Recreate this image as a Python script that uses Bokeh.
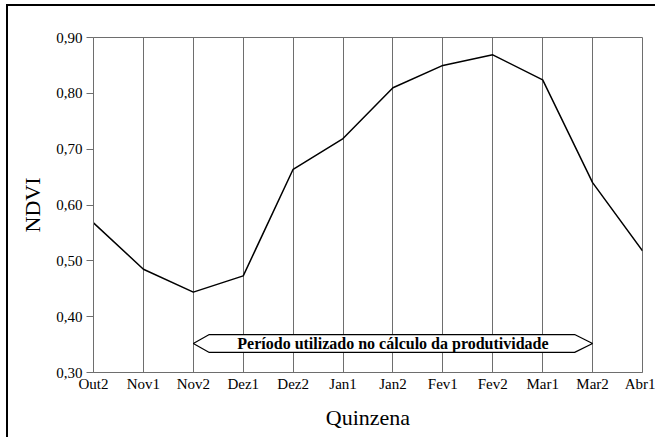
from bokeh.plotting import figure
from bokeh.models import FixedTicker, Range1d
from bokeh.core.properties import value
from bokeh.embed import file_html
from bokeh.resources import INLINE

categories = ["Out2", "Nov1", "Nov2", "Dez1", "Dez2", "Jan1", "Jan2",
              "Fev1", "Fev2", "Mar1", "Mar2", "Abr1"]
ndvi = [0.568, 0.485, 0.444, 0.473, 0.664, 0.719, 0.810,
        0.850, 0.869, 0.824, 0.640, 0.518]
y_ticks = [0.30, 0.40, 0.50, 0.60, 0.70, 0.80, 0.90]
y_tick_labels = ["0,30", "0,40", "0,50", "0,60", "0,70", "0,80", "0,90"]
period_start = "Nov2"
period_end = "Mar2"
period_label = "Período utilizado no cálculo da produtividade"
period_y = 0.352

SERIF = "Liberation Serif"
GRAY = "#6e6e6e"

xs = list(range(len(categories)))

p = figure(width=649, height=433, output_backend="svg", toolbar_location=None,
           x_range=Range1d(0, len(categories) - 1), y_range=Range1d(0.30, 0.90),
           min_border_left=85, min_border_right=15, min_border_top=31,
           min_border_bottom=67)
p.styles = {"border-left": "2px solid black", "border-top": "2px solid black",
            "margin-left": "6px", "margin-top": "4px"}

p.outline_line_color = GRAY
p.outline_line_width = 1
p.background_fill_color = "white"
p.border_fill_color = "white"

# x axis
p.xaxis.ticker = FixedTicker(ticks=xs)
p.xaxis.major_label_overrides = {i: c for i, c in enumerate(categories)}
p.xaxis.major_tick_out = 0
p.xaxis.major_tick_in = 0
p.xaxis.minor_tick_out = 0
p.xaxis.minor_tick_in = 0
p.xaxis.axis_line_color = GRAY
p.xaxis.major_label_text_font = SERIF
p.xaxis.major_label_text_font_size = "15px"
p.xaxis.major_label_text_color = "black"
p.xaxis.major_label_standoff = 3
p.xaxis.axis_label = "Quinzena"
p.xaxis.axis_label_text_font = SERIF
p.xaxis.axis_label_text_font_size = "22px"
p.xaxis.axis_label_text_font_style = "normal"
p.xaxis.axis_label_text_color = "black"
p.xaxis.axis_label_standoff = 10

# y axis
p.yaxis.ticker = FixedTicker(ticks=y_ticks)
p.yaxis.major_label_overrides = {t: l for t, l in zip(y_ticks, y_tick_labels)}
p.yaxis.major_tick_out = 7
p.yaxis.major_tick_in = 0
p.yaxis.minor_tick_out = 0
p.yaxis.minor_tick_in = 0
p.yaxis.major_tick_line_color = GRAY
p.yaxis.axis_line_color = GRAY
p.yaxis.major_label_text_font = SERIF
p.yaxis.major_label_text_font_size = "15px"
p.yaxis.major_label_text_color = "black"
p.yaxis.major_label_standoff = 4
p.yaxis.axis_label = "NDVI"
p.yaxis.axis_label_text_font = SERIF
p.yaxis.axis_label_text_font_size = "22px"
p.yaxis.axis_label_text_font_style = "normal"
p.yaxis.axis_label_text_color = "black"
p.yaxis.axis_label_standoff = 8

p.xgrid.ticker = FixedTicker(ticks=xs)
p.xgrid.grid_line_color = GRAY
p.xgrid.grid_line_width = 1
p.ygrid.grid_line_color = None

p.line(xs, ndvi, line_color="black", line_width=1.5)

# period arrow
x0 = categories.index(period_start)
x1 = categories.index(period_end)
head_l = 0.32
head_r = 0.36
half_h = 0.016
ax = [x0, x0 + head_l, x1 - head_r, x1, x1 - head_r, x0 + head_l]
ay = [period_y, period_y + half_h, period_y + half_h, period_y,
      period_y - half_h, period_y - half_h]
p.patch(ax, ay, fill_color="white", line_color="black", line_width=1.2)
p.text(x=[(x0 + x1) / 2], y=[period_y], text=[period_label],
       text_font=value(SERIF), text_font_size="16px", text_font_style="bold",
       text_align="center", text_baseline="middle", text_color="black")

open("out.html", "w").write(file_html(p, INLINE))
